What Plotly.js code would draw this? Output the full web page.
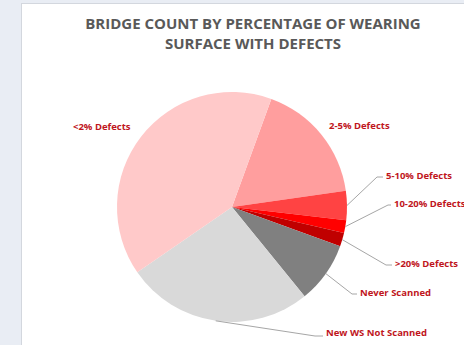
<!DOCTYPE html>
<html>
<head>
<meta charset="utf-8">
<script src="https://cdn.plot.ly/plotly-3.0.1.min.js"></script>
<style>html,body{margin:0;padding:0;background:#fff;}#chart{width:464px;height:345px;}</style>
</head>
<body>
<div id="chart"></div>
<script>
// Data (slice order clockwise, starting just right of 12 o'clock)
const categories = ['2-5% Defects', '5-10% Defects', '10-20% Defects', '>20% Defects', 'Never Scanned', 'New WS Not Scanned', '<2% Defects'];
const bridgeCounts = [172, 41, 18, 19, 86, 263, 402];
const sliceColors = ['#ff9e9e', '#ff4343', '#ff0000', '#c00000', '#808080', '#d9d9d9', '#ffc9c9'];
const chartTitle = 'BRIDGE COUNT BY PERCENTAGE OF WEARING<br>SURFACE WITH DEFECTS';

// Layout geometry (pixels)
const W = 464, H = 345;
const cx = 232, cy = 207, R = 115;
const rotationDeg = 20;
const labelColor = '#c0161d';
const leaderColor = '#a6a6a6';

// Label placement (text left edge / centre, elbow of leader line)
const labelPlacement = {
  '2-5% Defects':       {x: 359, y: 125, anchor: 'center'},
  '<2% Defects':        {x: 102, y: 127, anchor: 'center'},
  '5-10% Defects':      {x: 384, y: 175, anchor: 'left', elbow: [377, 177]},
  '10-20% Defects':     {x: 392, y: 203, anchor: 'left', elbow: [388, 205]},
  '>20% Defects':       {x: 393, y: 263, anchor: 'left', elbow: [386, 265]},
  'Never Scanned':      {x: 358, y: 292, anchor: 'left', elbow: [352, 294]},
  'New WS Not Scanned': {x: 324, y: 332, anchor: 'left', elbow: [315, 336]}
};

const px = x => x / W;
const py = y => 1 - y / H;

const total = bridgeCounts.reduce((a, b) => a + b, 0);
const annotations = [];
const shapes = [
  {type: 'rect', xref: 'paper', yref: 'paper', x0: 0, x1: px(21), y0: 0, y1: 1, fillcolor: '#e9edf4', line: {width: 0}, layer: 'below'},
  {type: 'rect', xref: 'paper', yref: 'paper', x0: 0, x1: 1, y0: py(3), y1: 1, fillcolor: '#e9edf4', line: {width: 0}, layer: 'below'},
  {type: 'line', xref: 'paper', yref: 'paper', x0: px(21.5), x1: px(21.5), y0: 0, y1: py(3), line: {color: '#d3d7de', width: 1}},
  {type: 'line', xref: 'paper', yref: 'paper', x0: px(21.5), x1: 1, y0: py(3.5), y1: py(3.5), line: {color: '#d3d7de', width: 1}}
];

let acc = 0;
categories.forEach((cat, i) => {
  const mid = rotationDeg + (acc + bridgeCounts[i] / 2) / total * 360;
  acc += bridgeCounts[i];
  const th = mid * Math.PI / 180;
  const ex = cx + R * Math.sin(th), ey = cy - R * Math.cos(th);
  const p = labelPlacement[cat];
  annotations.push({
    xref: 'paper', yref: 'paper', x: px(p.x), y: py(p.y),
    xanchor: p.anchor, yanchor: 'middle', showarrow: false,
    text: cat, font: {family: 'Open Sans', size: 9.5, color: labelColor, weight: 'bold'}
  });
  if (p.elbow) {
    const path = 'M' + px(ex) + ',' + py(ey) + ' L' + px(p.elbow[0]) + ',' + py(p.elbow[1]) + ' L' + px(p.x - 1) + ',' + py(p.elbow[1]);
    shapes.push({type: 'path', xref: 'paper', yref: 'paper', path: path, line: {color: leaderColor, width: 1}});
  }
});

const trace = {
  type: 'pie',
  labels: categories,
  values: bridgeCounts,
  sort: false,
  direction: 'clockwise',
  rotation: rotationDeg,
  marker: {colors: sliceColors, line: {width: 0}},
  textinfo: 'none',
  hoverinfo: 'label+value',
  showlegend: false,
  domain: {x: [px(cx - R), px(cx + R)], y: [py(cy + R), py(cy - R)]}
};

const layout = {
  width: W, height: H,
  margin: {l: 0, r: 0, t: 0, b: 0},
  paper_bgcolor: '#ffffff',
  title: {
    text: chartTitle,
    font: {family: 'Open Sans', size: 15, color: '#595959', weight: 'bold'},
    x: px(253), xanchor: 'center', xref: 'paper',
    y: py(29), yanchor: 'top', yref: 'container'
  },
  shapes: shapes,
  annotations: annotations
};

Plotly.newPlot('chart', [trace], layout, {displayModeBar: false, staticPlot: true});
</script>
</body>
</html>
